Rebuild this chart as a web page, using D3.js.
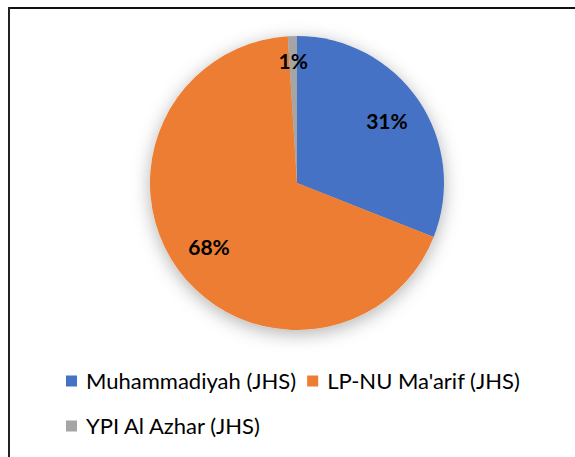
<!DOCTYPE html>
<html>
<head>
<meta charset="utf-8">
<script src="https://cdnjs.cloudflare.com/ajax/libs/d3/7.8.5/d3.min.js"></script>
<style>
  html, body { margin: 0; padding: 0; background: #fff; }
  svg { display: block; }
  text { font-family: Lato, "Open Sans", sans-serif; }
</style>
</head>
<body>
<svg id="chart"></svg>
<script>
const W = 575, H = 457;

const categories = ["Muhammadiyah (JHS)", "LP-NU Ma'arif (JHS)", "YPI Al Azhar (JHS)"];
const shares = [31, 68, 1];
const sliceLabels = ["31%", "68%", "1%"];
const colors = ["#4472C4", "#ED7D31", "#A5A5A5"];

const data = categories.map((c, i) => ({ name: c, value: shares[i], label: sliceLabels[i], color: colors[i] }));

const svg = d3.select("#chart")
    .attr("width", W)
    .attr("height", H);

svg.append("rect")
    .attr("width", W)
    .attr("height", H)
    .attr("fill", "#fff");

// frame lines (only top and left visible in the crop)
svg.append("line")
    .attr("x1", 8).attr("y1", 8).attr("x2", W).attr("y2", 8)
    .attr("stroke", "#111").attr("stroke-width", 2);
svg.append("line")
    .attr("x1", 9).attr("y1", 7).attr("x2", 9).attr("y2", H)
    .attr("stroke", "#222").attr("stroke-width", 2);

const defs = svg.append("defs");
const shadow = defs.append("filter")
    .attr("id", "soft")
    .attr("x", "-30%").attr("y", "-30%")
    .attr("width", "160%").attr("height", "160%");
shadow.append("feDropShadow")
    .attr("dx", 0).attr("dy", 4)
    .attr("stdDeviation", 9)
    .attr("flood-color", "#000")
    .attr("flood-opacity", 0.3);

const cx = 297, cy = 183, radius = 147;

const pie = d3.pie()
    .value(d => d.value)
    .sort(null);

const arc = d3.arc().innerRadius(0).outerRadius(radius);
const labelArc = d3.arc().innerRadius(radius * 0.74).outerRadius(radius * 0.74);
const smallArc = d3.arc().innerRadius(radius * 0.83).outerRadius(radius * 0.83);

const g = svg.append("g")
    .attr("transform", "translate(" + cx + "," + cy + ")");

g.append("g")
    .attr("filter", "url(#soft)")
    .selectAll("path")
    .data(pie(data))
    .enter().append("path")
    .attr("d", arc)
    .attr("fill", d => d.data.color);

g.selectAll(".slice-label")
    .data(pie(data))
    .enter().append("text")
    .attr("class", "slice-label")
    .attr("transform", d => {
        const p = d.data.value < 5 ? smallArc.centroid(d) : labelArc.centroid(d);
        return "translate(" + p[0] + "," + p[1] + ")";
    })
    .attr("text-anchor", "middle")
    .attr("dy", "0.36em")
    .attr("font-size", "21px")
    .attr("font-weight", "bold")
    .attr("fill", "#000")
    .text(d => d.data.label);

// legend, wraps like the original
const legend = svg.append("g").attr("class", "legend");
const rows = [[0, 1], [2]];
const rowY = [381, 426];
const legendX = 66, sw = 11, gap = 9, itemGap = 11;

rows.forEach((row, r) => {
    let x = legendX;
    row.forEach(i => {
        const item = legend.append("g")
            .attr("transform", "translate(" + x + "," + rowY[r] + ")");
        item.append("rect")
            .attr("x", 0).attr("y", -sw / 2)
            .attr("width", sw).attr("height", sw)
            .attr("fill", colors[i]);
        const t = item.append("text")
            .attr("x", sw + gap)
            .attr("dy", "0.36em")
            .attr("font-size", "22px")
            .attr("fill", "#000")
            .text(categories[i]);
        x += sw + gap + t.node().getComputedTextLength() + itemGap;
    });
});
</script>
</body>
</html>
